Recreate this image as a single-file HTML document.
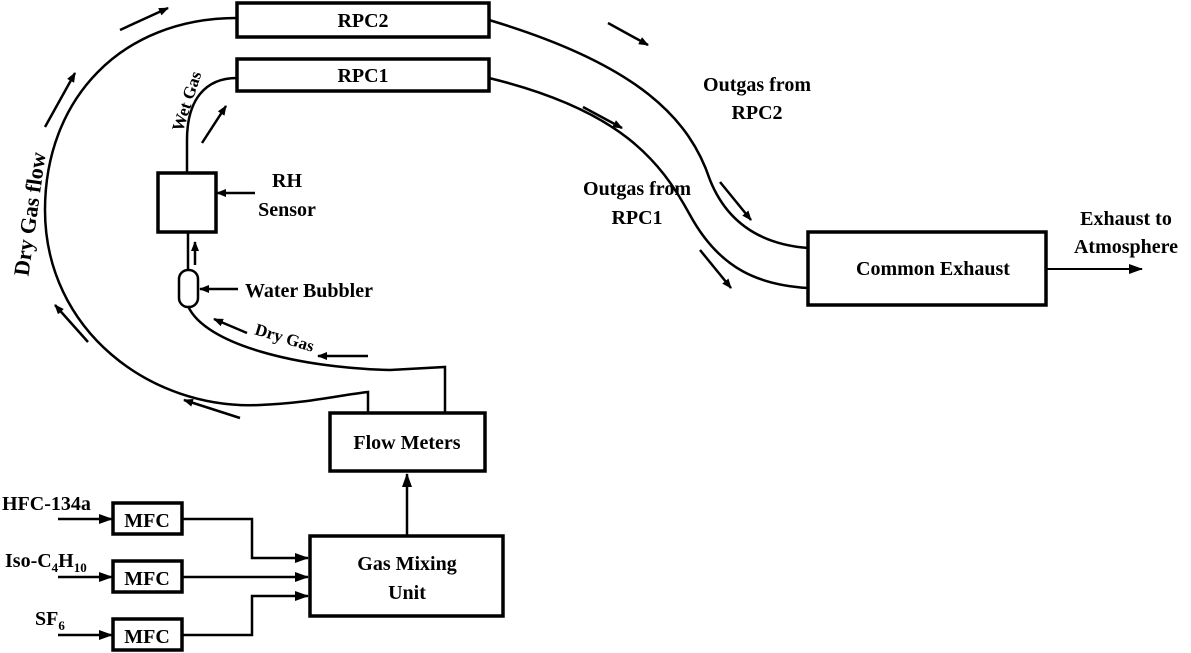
<!DOCTYPE html>
<html><head><meta charset="utf-8"><style>
html,body{margin:0;padding:0;background:#fff}
svg{display:block}
text{font-family:"Liberation Serif",serif;font-weight:bold;fill:#000}
</style></head><body>
<svg width="1191" height="653" viewBox="0 0 1191 653" xmlns="http://www.w3.org/2000/svg">
<defs>
<marker id="a" markerWidth="10" markerHeight="8" refX="9" refY="4" orient="auto" markerUnits="userSpaceOnUse">
<path d="M0,0 L10,4 L0,8 Z" fill="#000"/></marker>
<marker id="b" markerWidth="14" markerHeight="10" refX="13" refY="5" orient="auto" markerUnits="userSpaceOnUse">
<path d="M0,0 L14,5 L0,10 Z" fill="#000"/></marker>
</defs>
<g fill="none" stroke="#000" stroke-width="2.5">
<rect x="237" y="3" width="252" height="34" stroke-width="3.5"/>
<rect x="237" y="59" width="252" height="32" stroke-width="3.5"/>
<path d="M489,20 C640,65 690,120 710,180 C730,230 770,245 808,248"/>
<path d="M489,78 C620,110 660,160 690,215 C720,270 760,285 808,288"/>
<rect x="808" y="232" width="238" height="73" stroke-width="3.5"/>
<line x1="1046" y1="269" x2="1142" y2="269" stroke-width="2" marker-end="url(#b)"/>
<path d="M237,18 C120,18 45,100 45,210 C45,330 150,410 260,405 C310,403 340,395 368,392 L368,413"/>
<path d="M188,306 C205,345 300,368 390,370 L445,367 L445,413"/>
<rect x="179" y="270" width="19" height="37" rx="9" ry="9"/>
<line x1="188" y1="270" x2="188" y2="232"/>
<rect x="158" y="173" width="58" height="59" stroke-width="3.5"/>
<path d="M187,173 L187,140 C187,100 205,78 237,78"/>
<rect x="330" y="413" width="155" height="58" stroke-width="3.5"/>
<rect x="310" y="536" width="193" height="80" stroke-width="3.5"/>
<line x1="407" y1="536" x2="407" y2="474" marker-end="url(#b)"/>
<rect x="113" y="503" width="69" height="31" stroke-width="3.5"/>
<rect x="113" y="561" width="69" height="31" stroke-width="3.5"/>
<rect x="113" y="619" width="69" height="31" stroke-width="3.5"/>
<line x1="58" y1="519" x2="112" y2="519" marker-end="url(#b)"/>
<line x1="58" y1="577" x2="112" y2="577" marker-end="url(#b)"/>
<line x1="58" y1="635" x2="112" y2="635" marker-end="url(#b)"/>
<path d="M182,519 L252,519 L252,558 L308,558" marker-end="url(#b)"/>
<line x1="182" y1="577" x2="308" y2="577" marker-end="url(#b)"/>
<path d="M182,635 L252,635 L252,596 L308,596" marker-end="url(#b)"/>
</g>
<g stroke="#000" stroke-width="2.5" fill="none">
<line x1="608" y1="23" x2="648" y2="45" marker-end="url(#a)"/>
<line x1="583" y1="107" x2="622" y2="128" marker-end="url(#a)"/>
<line x1="720" y1="182" x2="751" y2="220" marker-end="url(#a)"/>
<line x1="700" y1="250" x2="731" y2="288" marker-end="url(#a)"/>
<line x1="120" y1="30" x2="168" y2="8" marker-end="url(#a)"/>
<line x1="45" y1="127" x2="75" y2="73" marker-end="url(#a)"/>
<line x1="88" y1="342" x2="55" y2="305" marker-end="url(#a)"/>
<line x1="240" y1="418" x2="184" y2="400" marker-end="url(#a)"/>
<line x1="247" y1="333" x2="214" y2="319" marker-end="url(#a)"/>
<line x1="368" y1="356" x2="318" y2="356" marker-end="url(#a)"/>
<line x1="202" y1="143" x2="226" y2="106" marker-end="url(#a)"/>
<line x1="195" y1="265" x2="195" y2="242" marker-end="url(#a)"/>
<line x1="255" y1="193" x2="217" y2="193" marker-end="url(#a)"/>
<line x1="238" y1="289" x2="200" y2="289" marker-end="url(#a)"/>
</g>
<g font-size="20">
<text x="363" y="27" text-anchor="middle">RPC2</text>
<text x="363" y="82" text-anchor="middle">RPC1</text>
<text x="757" y="91" text-anchor="middle">Outgas from</text>
<text x="757" y="119" text-anchor="middle">RPC2</text>
<text x="637" y="195" text-anchor="middle">Outgas from</text>
<text x="637" y="224" text-anchor="middle">RPC1</text>
<text x="1126" y="225" text-anchor="middle">Exhaust to</text>
<text x="1126" y="253" text-anchor="middle">Atmosphere</text>
<text x="933" y="275" text-anchor="middle">Common Exhaust</text>
<text x="287" y="187" text-anchor="middle">RH</text>
<text x="287" y="216" text-anchor="middle">Sensor</text>
<text x="245" y="297">Water Bubbler</text>
<text x="407" y="449" text-anchor="middle">Flow Meters</text>
<text x="407" y="570" text-anchor="middle">Gas Mixing</text>
<text x="407" y="599" text-anchor="middle">Unit</text>
<text x="147" y="527" text-anchor="middle">MFC</text>
<text x="147" y="585" text-anchor="middle">MFC</text>
<text x="147" y="643" text-anchor="middle">MFC</text>
<text x="2" y="510">HFC-134a</text>
<text x="5" y="567">Iso-C<tspan font-size="13" dy="5">4</tspan><tspan dy="-5">H</tspan><tspan font-size="13" dy="5">10</tspan></text>
<text x="35" y="625">SF<tspan font-size="13" dy="5">6</tspan></text>
</g>
<text font-size="22" transform="translate(37,215) rotate(-82)" text-anchor="middle">Dry Gas flow</text>
<text font-size="17" transform="translate(192,103) rotate(-72)" text-anchor="middle">Wet Gas</text>
<text font-size="17" transform="translate(283,343) rotate(17)" text-anchor="middle">Dry Gas</text>
</svg>
</body></html>
